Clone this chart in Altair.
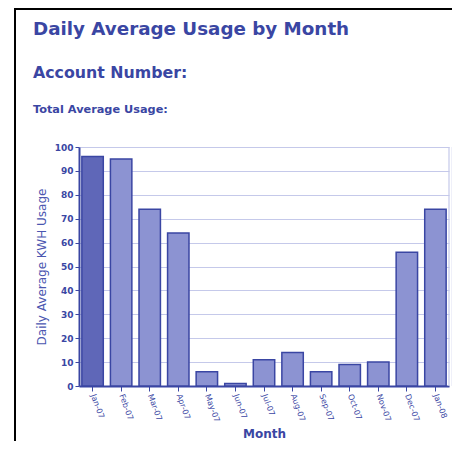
import altair as alt
import pandas as pd

months = ["Jan-07", "Feb-07", "Mar-07", "Apr-07", "May-07", "Jun-07", "Jul-07",
          "Aug-07", "Sep-07", "Oct-07", "Nov-07", "Dec-07", "Jan-08"]
usage = [96, 95, 74, 64, 6, 1, 11, 14, 6, 9, 10, 56, 74]
highlight = [1, 0, 0, 0, 0, 0, 0, 0, 0, 0, 0, 0, 0]

title_lines = ["Daily Average Usage by Month", "Account Number:", "Total Average Usage:"]

df = pd.DataFrame({"Month": months, "Usage": usage, "hl": highlight})

BLUE = "#3a46a3"
FONT = "DejaVu Sans"

W, H = 370, 239

bars = alt.Chart(df).mark_bar(stroke=BLUE, strokeWidth=1.5).encode(
    x=alt.X("Month:N", sort=months,
            scale=alt.Scale(paddingInner=0.25, paddingOuter=0.1),
            axis=alt.Axis(title="Month", labelAngle=70, labelAlign="left",
                          labelBaseline="middle", labelFontSize=8,
                          labelColor=BLUE, labelFont=FONT, labelPadding=3,
                          titleFont=FONT, titleFontSize=12, titleColor=BLUE,
                          titleFontWeight="bold", titlePadding=5,
                          domainColor=BLUE, domainWidth=2, tickColor=BLUE,
                          tickSize=5, grid=False)),
    y=alt.Y("Usage:Q", scale=alt.Scale(domain=[0, 100]),
            axis=alt.Axis(title="Daily Average KWH Usage", values=list(range(0, 101, 10)),
                          labelFontSize=9, labelFontWeight="bold", labelColor=BLUE,
                          labelFont=FONT, titleFont=FONT, titleFontSize=12,
                          titleColor="#4a56b0", titleFontWeight="normal", titlePadding=6,
                          domainColor=BLUE, domainWidth=2, tickColor=BLUE, tickSize=4,
                          gridColor="#c5c9ea", gridWidth=1.2)),
    color=alt.Color("hl:N", scale=alt.Scale(domain=[1, 0], range=["#5f67b8", "#8c93d2"]),
                    legend=None),
)

tdf = pd.DataFrame({"t": title_lines})

t1 = alt.Chart(tdf.iloc[[0]]).mark_text(align="left", baseline="middle", font=FONT,
                                          fontWeight="bold", fontSize=18.3, color=BLUE).encode(
    text="t:N", x=alt.value(-46), y=alt.value(-117))
t2 = alt.Chart(tdf.iloc[[1]]).mark_text(align="left", baseline="middle", font=FONT,
                                          fontWeight="bold", fontSize=15.8, color=BLUE).encode(
    text="t:N", x=alt.value(-46), y=alt.value(-74))
t3 = alt.Chart(tdf.iloc[[2]]).mark_text(align="left", baseline="middle", font=FONT,
                                          fontWeight="bold", fontSize=11.3, color=BLUE).encode(
    text="t:N", x=alt.value(-46), y=alt.value(-37))

frame_v = alt.Chart(df.iloc[[0]]).mark_rule(color="black", strokeWidth=2).encode(
    x=alt.value(-64), y=alt.value(-138), y2=alt.value(H + 70))
frame_h = alt.Chart(df.iloc[[0]]).mark_rule(color="black", strokeWidth=2).encode(
    x=alt.value(-65), x2=alt.value(W + 20), y=alt.value(-138))
right_edge = alt.Chart(df.iloc[[0]]).mark_rule(color="#c5c9ea", strokeWidth=1.2).encode(
    x=alt.value(W), y=alt.value(0), y2=alt.value(H))
right_edge2 = alt.Chart(df.iloc[[0]]).mark_rule(color="#dfe1f3", strokeWidth=1).encode(
    x=alt.value(W + 3), y=alt.value(0), y2=alt.value(H))

chart = alt.layer(frame_v, frame_h, right_edge, right_edge2, bars, t1, t2, t3).properties(
    width=W, height=H,
    padding={"left": 71, "top": 139, "right": 3, "bottom": 55},
    autosize=alt.AutoSizeParams(type="none"),
    background="white",
).configure_view(stroke=None)

chart.save("out.html", embed_options={"renderer": "svg", "actions": False})
